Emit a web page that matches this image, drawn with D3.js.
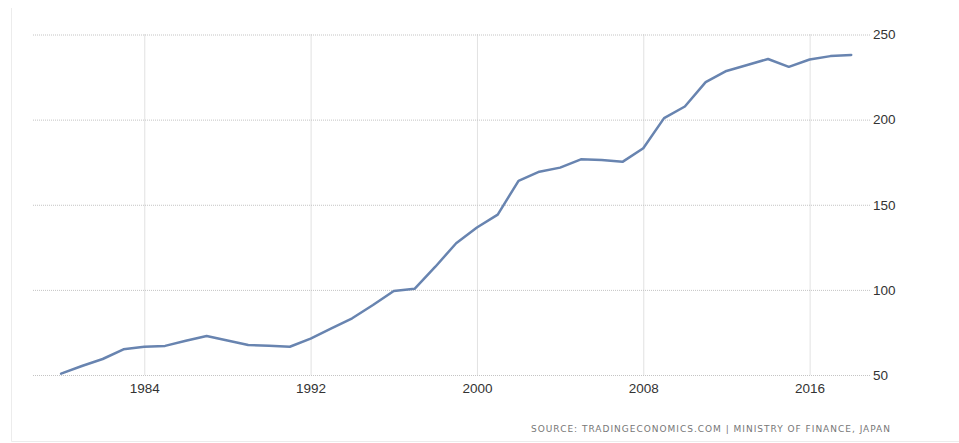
<!DOCTYPE html>
<html>
<head>
<meta charset="utf-8">
<script src="https://cdn.jsdelivr.net/npm/d3@7"></script>
<style>
  html, body { margin: 0; padding: 0; background: #fff; }
  svg { display: block; }
</style>
</head>
<body>
<svg id="chart" width="959" height="443"></svg>
<script>
const years = [1980,1981,1982,1983,1984,1985,1986,1987,1988,1989,1990,1991,1992,1993,1994,1995,1996,1997,1998,1999,2000,2001,2002,2003,2004,2005,2006,2007,2008,2009,2010,2011,2012,2013,2014,2015,2016,2017,2018];
const debtToGdp = [50.8,55.3,59.4,65.1,66.6,67.1,70.1,72.9,70.3,67.6,67.2,66.6,71.4,77.4,83.3,91.1,99.3,100.6,113.6,127.4,136.6,144.2,164.0,169.4,171.8,176.7,176.3,175.2,183.2,200.9,207.7,222.0,228.6,232.1,235.6,231.0,235.3,237.3,238.0];
const xTicks = [1984,1992,2000,2008,2016];
const yTicks = [50,100,150,200,250];
const sourceText = "SOURCE: TRADINGECONOMICS.COM | MINISTRY OF FINANCE, JAPAN";

const svg = d3.select("#chart");

// faint outer frame
svg.append("path")
  .attr("d", "M11.5,8 V441.5 H959")
  .attr("fill", "none")
  .attr("stroke", "#ececec")
  .attr("stroke-width", 1);

const x = d3.scaleLinear().domain([1980, 2018]).range([61.1, 851.2]);
const y = d3.scaleLinear().domain([50, 250]).range([375, 34.5]);

// horizontal grid + right axis labels
const yAxis = d3.axisRight(y)
  .tickValues(yTicks)
  .tickSize(870 - 33)
  .tickPadding(3)
  .tickFormat(d3.format("d"));
const gy = svg.append("g").attr("transform", "translate(33,0)").call(yAxis);
gy.select(".domain").remove();
gy.selectAll(".tick line")
  .attr("stroke", "#c4c4c4")
  .attr("stroke-dasharray", "1,1");
gy.selectAll(".tick text")
  .attr("fill", "#333")
  .attr("font-family", "'Liberation Sans', Arial, sans-serif")
  .attr("font-size", "13.5px");

// vertical grid + bottom labels
const xAxis = d3.axisBottom(x)
  .tickValues(xTicks)
  .tickSize(375 - 34.5)
  .tickPadding(8)
  .tickFormat(d3.format("d"));
const gx = svg.append("g").attr("transform", "translate(0,34.5)").call(xAxis);
gx.select(".domain").remove();
gx.selectAll(".tick line")
  .attr("stroke", "#c4c4c4")
  .attr("stroke-dasharray", "1,1");
gx.selectAll(".tick text")
  .attr("fill", "#333")
  .attr("font-family", "'Liberation Sans', Arial, sans-serif")
  .attr("font-size", "13.5px");

// line
const data = years.map((yr, i) => ({ yr, v: debtToGdp[i] }));
const line = d3.line().x(d => x(d.yr)).y(d => y(d.v));
svg.append("path")
  .datum(data)
  .attr("d", line)
  .attr("fill", "none")
  .attr("stroke", "#6884b0")
  .attr("stroke-width", 2.5)
  .attr("stroke-linejoin", "round")
  .attr("stroke-linecap", "round");

// source
svg.append("text")
  .attr("x", 531)
  .attr("y", 432)
  .attr("fill", "#777")
  .attr("font-family", "'DejaVu Sans', sans-serif")
  .attr("font-size", "9px")
  .attr("textLength", 359)
  .attr("lengthAdjust", "spacing")
  .text(sourceText);
</script>
</body>
</html>
